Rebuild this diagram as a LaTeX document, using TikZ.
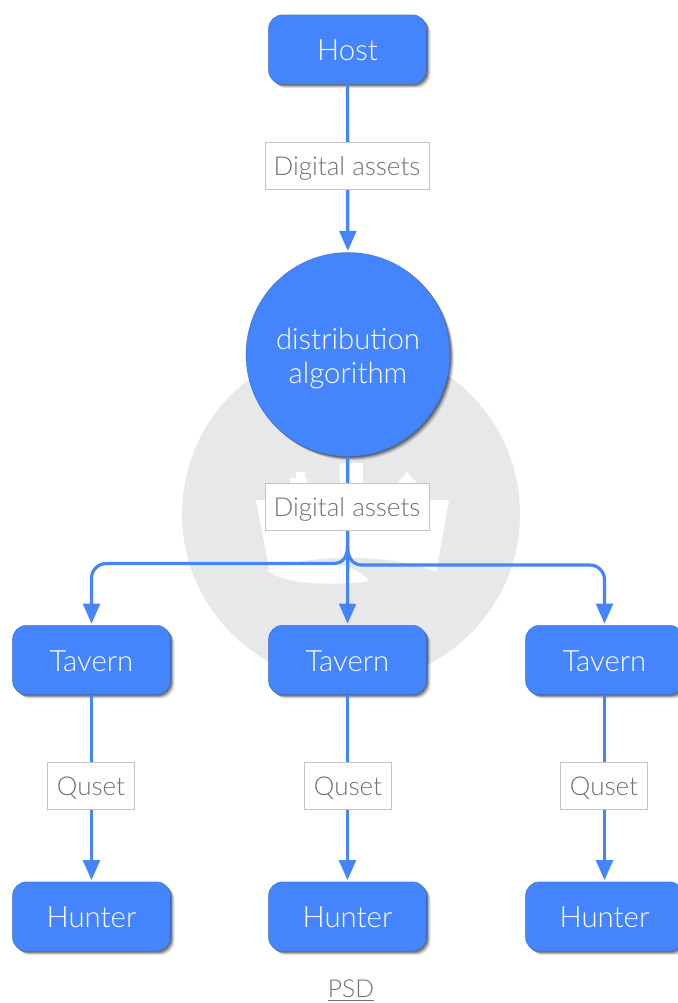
\documentclass[tikz,border=0pt]{standalone}
\usepackage{fontspec}
\setmainfont{Lato Light}
\usetikzlibrary{arrows.meta,shadows}
\definecolor{blu}{HTML}{4485FD}
\definecolor{wm}{HTML}{E7E8EA}
\definecolor{lbl}{HTML}{707178}
\definecolor{bdr}{HTML}{C4C4C8}
\tikzset{
  softshade/.style={
    general shadow={fill=black,opacity=.10,shadow xshift=3pt,shadow yshift=-3pt},
    general shadow={fill=black,opacity=.14,shadow xshift=2.3pt,shadow yshift=-2.3pt},
    general shadow={fill=black,opacity=.20,shadow xshift=1.6pt,shadow yshift=-1.6pt},
    general shadow={fill=black,opacity=.25,shadow xshift=1pt,shadow yshift=-1pt}},
  x=0.75pt,y=-0.75pt,
  boxn/.style={softshade,draw=blu!70!black,draw opacity=0.6,line width=0.4pt,fill=blu,rounded corners=10.5pt,minimum width=118.5pt,minimum height=52pt,text=white,font=\fontsize{22}{24}\selectfont,inner sep=0pt,text height=17pt,text depth=0pt},
  circn/.style={boxn,circle,rounded corners=0pt,minimum width=153pt,minimum height=153pt,align=center,font=\fontsize{22}{25.5}\selectfont,text height=,text depth=},
  lab/.style={draw=bdr,line width=0.5pt,fill=white,text=lbl,font=\fontsize{19.5}{21}\selectfont,inner sep=0pt,minimum height=35.5pt,text height=14.5pt,text depth=0pt},
  conn/.style={draw=blu,line width=2.4pt,-{Triangle[length=15pt,width=12.5pt,fill=blu]},shorten >=1pt},
  curveline/.style={draw=blu,line width=2.4pt},
}
\begin{document}
\begin{tikzpicture}
\useasboundingbox (0,0) rectangle (678,1003);
% watermark
\fill[wm] (351,514) circle [radius=169];
\fill[white] (256,500) -- (449,500) -- (436,574) -- (270,574) -- cycle;
\fill[white] (290,478) rectangle (307,500);
\fill[white] (296,472) rectangle (305,480);
\fill[white] (340,463) rectangle (363,500);
\fill[white] (407,472) -- (416,482) -- (416,500) -- (398,500) -- (398,482) -- cycle;
\fill[wm] (270,569) .. controls (310,555) and (385,552) .. (437,572) -- (437,576) -- (268,576) -- cycle;
\fill[white] (268,571) .. controls (285,560) and (350,555) .. (369,581) .. controls (340,586) and (285,585) .. (268,571) -- cycle;
% nodes
\node[boxn] (host) at (347.5,49.5) {Host};
\node[circn] (algo) at (348,354.5) {\rule{0pt}{22pt}distribution\\algorithm};
\node[boxn] (t1) at (91.5,660) {Tavern};
\node[boxn] (t2) at (347.5,660) {Tavern};
\node[boxn] (t3) at (604.5,660) {Tavern};
\node[boxn] (h1) at (91.5,916.5) {Hunter};
\node[boxn] (h2) at (347.5,916.5) {Hunter};
\node[boxn] (h3) at (604.5,916.5) {Hunter};
% connectors
\coordinate (jc) at (347.5,546);
\coordinate (jl) at (333,563.5);
\coordinate (jr) at (362,565);
\draw[conn] (host) -- (algo);
\draw[conn] (algo) -- (t2);
\draw[curveline] (jc) .. controls (347.5,557) and (343,563.5) .. (jl);
\draw[curveline] (jc) .. controls (347.5,557) and (352,565) .. (jr);
\draw[conn,rounded corners=11pt] (jl) -- (t1.north |- jl) -- (t1);
\draw[conn,rounded corners=11pt] (jr) -- (t3.north |- jr) -- (t3);
\draw[conn] (t1) -- (h1);
\draw[conn] (t2) -- (h2);
\draw[conn] (t3) -- (h3);
% labels
\node[lab,minimum width=123pt] (l1) at (347,166) {Digital assets};
\node[lab,minimum width=123pt] (l2) at (347,507) {Digital assets};
\node[lab,minimum width=65.5pt] (q1) at (91,786) {Quset};
\node[lab,minimum width=65.5pt] (q2) at (348,786) {Quset};
\node[lab,minimum width=65.5pt] (q3) at (604,786) {Quset};
\node[text=lbl,font=\fontsize{18.5}{20}\selectfont,inner sep=0pt] (psd) at (351,990.5) {\underline{PSD}};
\end{tikzpicture}
\end{document}
